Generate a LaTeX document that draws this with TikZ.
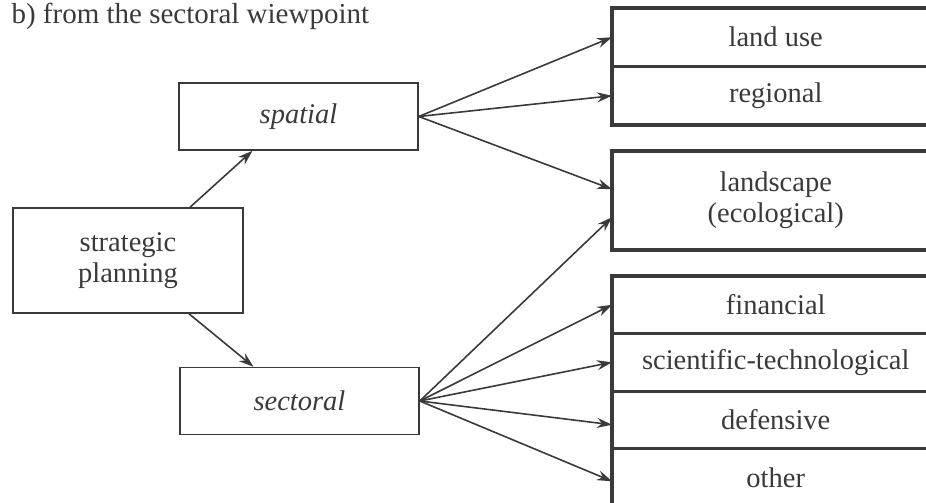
\documentclass[tikz,border=0pt]{standalone}
\usepackage{fontspec}
\setmainfont{Liberation Serif}
\usetikzlibrary{positioning}
\usetikzlibrary{arrows.meta}
\definecolor{ink}{HTML}{3A3A3A}

\begin{document}
\begin{tikzpicture}
	[x=1pt,y=-1pt,
	every node/.style={text=ink, font=\fontsize{28.5}{30.5}\selectfont},
	plainbox/.style={draw=ink, line width=1.5pt, minimum width=239pt, minimum height=67pt},
	cell/.style={draw=ink, line width=1.5pt, minimum width=326pt, minimum height=57pt, inner sep=0pt},
	group/.style={draw=ink, line width=4pt},
	link/.style={draw=ink, line width=1.6pt, ->, >={Stealth[length=15pt,width=10pt,inset=5pt]}}]

\useasboundingbox (0,0) rectangle (926,503);
\node [anchor=base west, font=\fontsize{29}{31}\selectfont] (title) at (8,24) {b) from the sectoral wiewpoint};

\node [plainbox, minimum width=230pt, minimum height=105pt, align=center] (strat) at (128,260.5) {strategic\\planning};
\node [plainbox] (spatial) at (298.5,116.5) {\itshape spatial};
\node [plainbox] (sectoral) at (299.5,401) {\itshape sectoral};

\node [cell, anchor=north west] (landuse) at (612,8) {land use};
\node [cell, below=0pt of landuse] (regional) {regional};
\node [cell, anchor=north west, minimum height=97pt, align=center] (landscape) at (612,151) {landscape\\(ecological)};
\node [cell, anchor=north west, minimum height=56pt] (financial) at (612,276) {financial};
\node [cell, minimum height=56pt, below=0pt of financial] (scitech) {scientific-technological};
\node [cell, minimum height=56pt, below=0pt of scitech] (defensive) {defensive};
\node [cell, minimum height=56pt, below=0pt of defensive] (other) {other};

\draw [group] (landuse.north west) rectangle (regional.south east);
\draw [group] (landscape.north west) rectangle (landscape.south east);
\draw [group] (financial.north west) rectangle (other.south east);

\draw [link] ([xshift=62pt]strat.north) -- ([xshift=-46pt]spatial.south);
\draw [link] ([xshift=61pt]strat.south) -- ([xshift=-46pt]sectoral.north);

\draw [link] (spatial.east) -- (landuse.west);
\draw [link] (spatial.east) -- (regional.west);
\draw [link] (spatial.east) -- ([yshift=11pt]landscape.west);

\draw [link] (sectoral.east) -- ([yshift=-17pt]landscape.west);
\draw [link] (sectoral.east) -- (financial.west);
\draw [link] (sectoral.east) -- (scitech.west);
\draw [link] (sectoral.east) -- ([yshift=-5pt]defensive.west);
\draw [link] (sectoral.east) -- ([yshift=-4pt]other.west);

\end{tikzpicture}
\end{document}
